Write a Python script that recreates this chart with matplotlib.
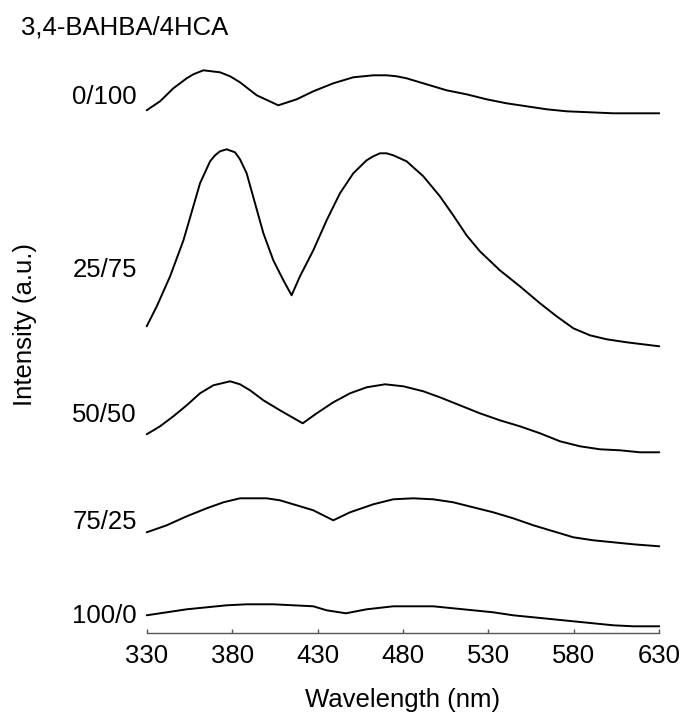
import matplotlib
matplotlib.use("Agg")
import matplotlib.pyplot as plt

plt.rcParams['font.family'] = ['Liberation Sans', 'DejaVu Sans']

# ---- data (wavelength nm, intensity a.u., curves vertically offset as in the figure) ----
wl_0_100 = [330, 337.8, 345.6, 353.4, 357.3, 363.2, 368.0, 372.9, 378.8, 384.6, 394.4, 407.0,
            417.8, 427.5, 439.2, 450.9, 456.8, 462.6, 470.4, 476.3, 482.1, 493.8, 505.5, 517.2,
            528.9, 540.6, 552.4, 564.1, 575.8, 589.4, 603.1, 630]
int_0_100 = [5.23, 5.32, 5.45, 5.55, 5.59, 5.63, 5.62, 5.61, 5.57, 5.51, 5.38, 5.28,
             5.34, 5.42, 5.50, 5.56, 5.57, 5.58, 5.58, 5.57, 5.55, 5.49, 5.43, 5.39,
             5.34, 5.30, 5.27, 5.24, 5.22, 5.21, 5.20, 5.20]

wl_25_75 = [330, 335.9, 343.7, 351.5, 357.3, 361.2, 367.1, 370.0, 372.9, 376.8, 381.7, 384.6,
            388.5, 393.4, 398.3, 404.1, 410.0, 414.8, 419.7, 427.5, 435.3, 443.1, 450.9, 458.7,
            462.6, 466.5, 470.4, 474.3, 482.1, 491.9, 501.6, 509.4, 517.2, 525.0, 536.7, 548.4,
            560.2, 569.9, 579.7, 589.4, 599.2, 610.9, 630]
int_25_75 = [3.07, 3.27, 3.57, 3.93, 4.27, 4.50, 4.72, 4.78, 4.82, 4.84, 4.81, 4.74,
             4.60, 4.30, 4.00, 3.73, 3.53, 3.38, 3.57, 3.83, 4.13, 4.40, 4.60, 4.73,
             4.77, 4.80, 4.80, 4.78, 4.72, 4.57, 4.37, 4.18, 3.98, 3.82, 3.63, 3.47,
             3.30, 3.17, 3.05, 2.98, 2.94, 2.91, 2.87]

wl_50_50 = [330, 337.8, 345.6, 353.4, 361.2, 369.0, 378.8, 384.6, 390.5, 398.3, 408.0, 421.3,
            429.5, 439.2, 449.0, 458.7, 469.5, 480.2, 491.9, 501.6, 513.3, 525.0, 536.7, 548.4,
            560.2, 571.9, 583.6, 595.3, 607.0, 618.7, 630]
int_50_50 = [1.99, 2.07, 2.17, 2.28, 2.40, 2.48, 2.52, 2.49, 2.43, 2.33, 2.23, 2.10,
             2.20, 2.31, 2.40, 2.46, 2.49, 2.47, 2.42, 2.36, 2.28, 2.20, 2.13, 2.07,
             2.00, 1.92, 1.87, 1.84, 1.83, 1.81, 1.81]

wl_75_25 = [330, 341.7, 353.4, 365.1, 374.9, 384.6, 394.4, 400.2, 408.0, 417.8, 427.5, 439.2,
            449.0, 462.6, 474.3, 486.0, 497.7, 509.4, 521.1, 532.8, 544.5, 556.3, 568.0, 579.7,
            591.4, 603.1, 614.8, 630]
int_75_25 = [1.01, 1.08, 1.17, 1.25, 1.31, 1.35, 1.35, 1.35, 1.33, 1.28, 1.23, 1.13,
             1.21, 1.29, 1.34, 1.35, 1.34, 1.31, 1.26, 1.21, 1.15, 1.08, 1.02, 0.96,
             0.93, 0.91, 0.89, 0.87]

wl_100_0 = [330, 341.7, 353.4, 365.1, 376.8, 388.5, 392.4, 404.1, 415.8, 427.5, 435.3, 446.6,
            458.7, 474.3, 486.0, 497.7, 509.4, 521.1, 532.8, 544.5, 556.3, 568.0, 579.7, 591.4,
            603.1, 614.8, 630]
int_100_0 = [0.18, 0.21, 0.24, 0.26, 0.28, 0.29, 0.29, 0.29, 0.28, 0.27, 0.23, 0.20,
             0.24, 0.27, 0.27, 0.27, 0.25, 0.23, 0.21, 0.18, 0.16, 0.14, 0.12, 0.10,
             0.08, 0.07, 0.07]

labels = ["0/100", "25/75", "50/50", "75/25", "100/0"]
label_y = [5.36, 3.63, 2.18, 1.11, 0.17]
xticks = [330, 380, 430, 480, 530, 580, 630]
title = "3,4-BAHBA/4HCA"

W, H = 684, 718
fig = plt.figure(figsize=(W / 100, H / 100), dpi=100)
ax_left, ax_right = 146.7 / W, 659.3 / W
ax_bottom = 1 - 633.3 / H
ax_top = 1 - 40 / H
ax = fig.add_axes([ax_left, ax_bottom, ax_right - ax_left, ax_top - ax_bottom])
ax.set_xlim(330, 630)
ax.set_ylim(0, 5.933)

series = [(wl_0_100, int_0_100), (wl_25_75, int_25_75), (wl_50_50, int_50_50),
          (wl_75_25, int_75_25), (wl_100_0, int_100_0)]
for wl, it in series:
    ax.plot(wl, it, color='black', lw=1.4, solid_joinstyle='round',
            solid_capstyle='round', clip_on=False)

fs = 18.5
for lab, y in zip(labels, label_y):
    ax.text(324.3, y, lab, ha='right', va='center', fontsize=fs, clip_on=False)

for s in ['top', 'right', 'left']:
    ax.spines[s].set_visible(False)
ax.spines['bottom'].set_color('#555555')
ax.spines['bottom'].set_linewidth(1.0)
ax.set_yticks([])
ax.set_xticks(xticks)
ax.set_xticklabels([str(t) for t in xticks])
ax.tick_params(axis='x', direction='in', length=3, width=1.0, color='#555555',
               labelsize=fs, pad=7.5)

fig.text(20.7 / W, 1 - 28 / H, title, ha='left', va='center', fontsize=fs)
fig.text(25 / W, 1 - 324 / H, "Intensity (a.u.)", rotation=90, ha='center', va='center', fontsize=fs)
fig.text(403 / W, 1 - 700 / H, "Wavelength (nm)", ha='center', va='center', fontsize=fs)

fig.savefig("out.png", dpi=100)
